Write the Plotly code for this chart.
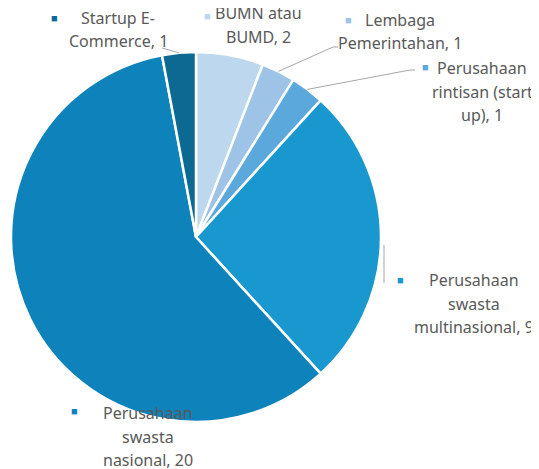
import math
import plotly.graph_objects as go

W, H = 539, 469
OFF = 8  # the page body margin shifts the figure by 8px

labels = ["BUMN atau BUMD", "Lembaga Pemerintahan", "Perusahaan rintisan (start up)",
          "Perusahaan swasta multinasional", "Perusahaan swasta nasional", "Startup E-Commerce"]
values = [2, 1, 1, 9, 20, 1]
colors = ["#bdd7ee", "#9dc3e6", "#5ba8dc", "#1898cf", "#0e82bb", "#0c6a92"]

# label text (lines), centre of text block in px, marker square position in px
label_lines = [
    ["BUMN atau", "BUMD, 2"],
    ["Lembaga", "Pemerintahan, 1"],
    ["Perusahaan", "rintisan (start", "up), 1"],
    ["Perusahaan", "swasta", "multinasional, 9"],
    ["Perusahaan", "swasta", "nasional, 20"],
    ["Startup E-", "Commerce, 1"],
]
label_pos = [(258, 13), (400, 20), (482, 68), (474, 280), (148, 413), (118, 18)]
square_pos = [(207, 15), (348, 19), (425, 67), (400, 279), (74, 410), (55, 17)]

# pie geometry (px, page coordinates)
cx, cy, r = 196, 237, 185


def px(x, y):
    return (x - OFF) / W, 1 - (y - OFF) / H


fig = go.Figure()
x0, y1 = px(cx - r, cy - r)
x1, y0 = px(cx + r, cy + r)
fig.add_trace(go.Pie(
    labels=labels, values=values, sort=False, direction="clockwise", rotation=0,
    marker=dict(colors=colors, line=dict(color="white", width=2.5)),
    textinfo="none", hoverinfo="label+value", showlegend=False,
    domain=dict(x=[x0, x1], y=[y0, y1]),
))

font = dict(family="Noto Sans, Lato, sans-serif", size=16, color="#595959")
lh = 23.5
for lines, (lx, ly), (sx, sy), c in zip(label_lines, label_pos, square_pos, colors):
    for k, t in enumerate(lines):
        x, y = px(lx, ly + k * lh)
        fig.add_annotation(x=x, y=y, xref="paper", yref="paper", text=t, showarrow=False,
                           font=font, xanchor="center", yanchor="middle")
    x, y = px(sx, sy)
    fig.add_annotation(x=x, y=y, xref="paper", yref="paper", text="■", showarrow=False,
                       font=dict(size=11, color=c), xanchor="center", yanchor="middle")

# leader lines from slice mid-points on the rim
total = sum(values)
cum = [sum(values[:i]) + values[i] / 2 for i in range(len(values))]


def rim(i):
    a = math.radians(360 * cum[i] / total)
    return cx + r * math.sin(a), cy - r * math.cos(a)


leaders = {
    1: [(333, 47), (338, 47)],
    2: [(410, 70), (415, 70)],
    3: [(384, 245), (384, 283)],
    5: [(162, 48)],
}
for i, pts in leaders.items():
    path = [rim(i)] + pts
    if i == 3:
        path = pts
    d = "M " + " L ".join(f"{px(x, y)[0]},{px(x, y)[1]}" for x, y in path)
    fig.add_shape(type="path", path=d, xref="paper", yref="paper",
                  line=dict(color="#a6a6a6", width=1))

fig.update_layout(width=W, height=H, margin=dict(l=0, r=0, t=0, b=0),
                  paper_bgcolor="white", plot_bgcolor="white")
fig.write_html("out.html")
